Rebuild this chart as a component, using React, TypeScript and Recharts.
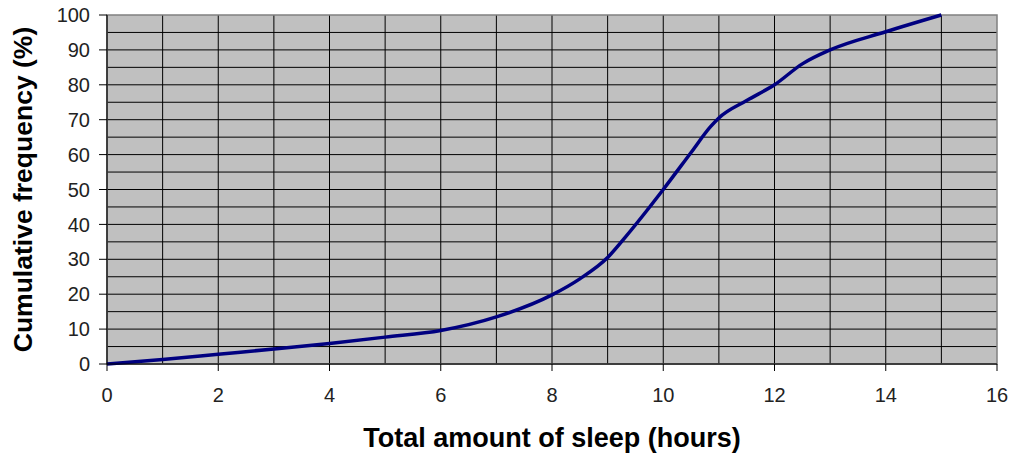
import React from 'react';
import { LineChart, Line, XAxis, YAxis, CartesianGrid, ReferenceArea } from 'recharts';

// hours of sleep vs cumulative %
const hours = [0, 1, 2, 3, 4, 5, 6, 7, 8, 8.5, 9, 9.3, 10, 10.5, 10.85, 11, 11.5, 12, 12.5, 13, 14, 15];
const cumPct = [0, 1.3, 2.8, 4.3, 5.9, 7.7, 9.6, 13.5, 19.8, 24.4, 30.5, 36, 50, 60.6, 68, 70.5, 75.5, 80, 86, 90, 95.2, 100];

const xTicks = [0, 2, 4, 6, 8, 10, 12, 14, 16];
const yTicks = [0, 10, 20, 30, 40, 50, 60, 70, 80, 90, 100];
const xGrid = [0, 1, 2, 3, 4, 5, 6, 7, 8, 9, 10, 11, 12, 13, 14, 15];
const yGrid = [0, 5, 10, 15, 20, 25, 30, 35, 40, 45, 50, 55, 60, 65, 70, 75, 80, 85, 90, 95];

const data = hours.map((h, i) => ({ hours: h, pct: cumPct[i] }));

const font = '"Liberation Sans", Arial, sans-serif';
const tickStyle = { fill: '#222', fontSize: 20, fontFamily: font };

export default function App() {
  return (
    <div style={{ position: 'absolute', left: 0, top: 0, width: 1011, height: 457, background: '#fff' }}>
      <LineChart width={1011} height={457} data={data} margin={{ top: 15, right: 14, left: 0, bottom: 0 }}>
        <CartesianGrid
          fill="#c0c0c0"
          stroke="#000"
          strokeWidth={1}
          verticalValues={xGrid}
          horizontalValues={yGrid}
        />
        <ReferenceArea x1={0} x2={16} y1={0} y2={100} fill="none" stroke="#808080" strokeWidth={1.5} ifOverflow="visible" />
        <XAxis
          dataKey="hours"
          type="number"
          domain={[0, 16]}
          ticks={xTicks}
          interval={0}
          height={93}
          stroke="#000"
          tickSize={7}
          tickMargin={17}
          tick={tickStyle}
          label={{
            value: 'Total amount of sleep (hours)',
            position: 'insideBottom',
            offset: 10,
            style: { fontSize: 27, fontWeight: 'bold', fill: '#000', fontFamily: font },
          }}
        />
        <YAxis
          type="number"
          domain={[0, 100]}
          ticks={yTicks}
          interval={0}
          width={107}
          stroke="#000"
          tickSize={8}
          tickMargin={9}
          tick={tickStyle}
          label={{
            value: 'Cumulative frequency (%)',
            angle: -90,
            position: 'insideLeft',
            offset: 15,
            dx: 8,
            style: { fontSize: 26.5, fontWeight: 'bold', fill: '#000', fontFamily: font, textAnchor: 'middle' },
          }}
        />
        <Line
          type="monotone"
          dataKey="pct"
          stroke="#000080"
          strokeWidth={3.5}
          dot={false}
          isAnimationActive={false}
        />
      </LineChart>
    </div>
  );
}
